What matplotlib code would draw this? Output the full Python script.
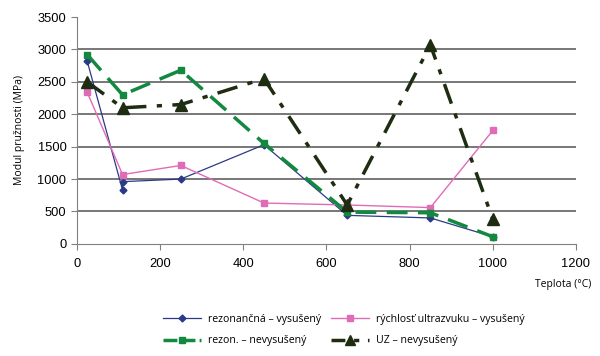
import matplotlib
matplotlib.use("Agg")
import matplotlib.pyplot as plt
from matplotlib.lines import Line2D

# data
x_blue = [25, 110, 110, 250, 450, 650, 850, 1000]
y_blue = [2820, 830, 960, 1000, 1530, 440, 400, 110]

x_pink = [25, 110, 250, 450, 650, 850, 1000]
y_pink = [2340, 1070, 1210, 630, 600, 560, 1750]

x_green = [25, 110, 250, 450, 650, 850, 1000]
y_green = [2920, 2300, 2680, 1550, 490, 480, 110]

x_uz = [25, 110, 250, 450, 650, 850, 1000]
y_uz = [2500, 2100, 2150, 2550, 600, 3070, 380]

labels = ["rezonančná – vysušený", "rýchlosť ultrazvuku – vysušený",
          "rezon. – nevysušený", "UZ – nevysušený"]

c_blue, c_pink, c_green, c_uz = '#2b3a86', '#e06cb8', '#12893f', '#1e2d12'

plt.rcParams['font.family'] = ['Liberation Sans', 'DejaVu Sans']

fig = plt.figure(figsize=(6, 3.56), dpi=100)
ax = fig.add_axes([0.128, 0.315, 0.832, 0.637])

ax.plot(x_blue, y_blue, color=c_blue, lw=0.9, marker='D', ms=3.5)
ax.plot(x_pink, y_pink, color=c_pink, lw=1.0, marker='s', ms=5)
ax.plot(x_green, y_green, color=c_green, lw=2.5, marker='s', ms=5, dashes=(6, 3))
ax.plot(x_uz, y_uz, color=c_uz, lw=2.5, marker='^', ms=9, dashes=(6, 3, 1.5, 3))

ax.set_xlim(0, 1200)
ax.set_ylim(0, 3500)
ax.set_xticks(range(0, 1201, 200))
ax.set_yticks(range(0, 3501, 500))
for v in range(500, 3001, 500):
    ax.axhline(v, color='#606060', lw=1.2, zorder=0)

for s in ['top', 'right']:
    ax.spines[s].set_visible(False)
for s in ['left', 'bottom']:
    ax.spines[s].set_color('#808080')
ax.tick_params(direction='out', length=4, color='#808080', labelsize=9.3)
ax.tick_params(axis='x', pad=6)

ax.set_ylabel("Modul pružnosti (MPa)", fontsize=7.5, labelpad=9,
              family=['Open Sans', 'DejaVu Sans'])
fig.text(0.985, 0.2, "Teplota (°C)", ha='right', va='center', fontsize=7.5,
         family=['Open Sans', 'DejaVu Sans'])

# legend proxies (look of the handles in the reference)
h1 = Line2D([], [], color=c_blue, lw=0.9, marker='D', ms=3.5)
h2 = Line2D([], [], color=c_pink, lw=1.0, marker='s', ms=5)
h3 = Line2D([], [], color=c_green, lw=2.5, marker='s', ms=5, dashes=(4, 1.2))
h4 = Line2D([], [], color=c_uz, lw=2.5, marker='^', ms=7, dashes=(4, 2.5, 1.5, 2.5))

fig.legend([h1, h3, h2, h4], [labels[0], labels[2], labels[1], labels[3]],
           ncol=2, loc='center', bbox_to_anchor=(0.573, 0.073), frameon=False,
           prop={'family': ['Open Sans', 'DejaVu Sans'], 'size': 7.6},
           handlelength=3.6, handletextpad=0.6, columnspacing=1.0, labelspacing=1.0)

fig.savefig("out.png", dpi=100)
